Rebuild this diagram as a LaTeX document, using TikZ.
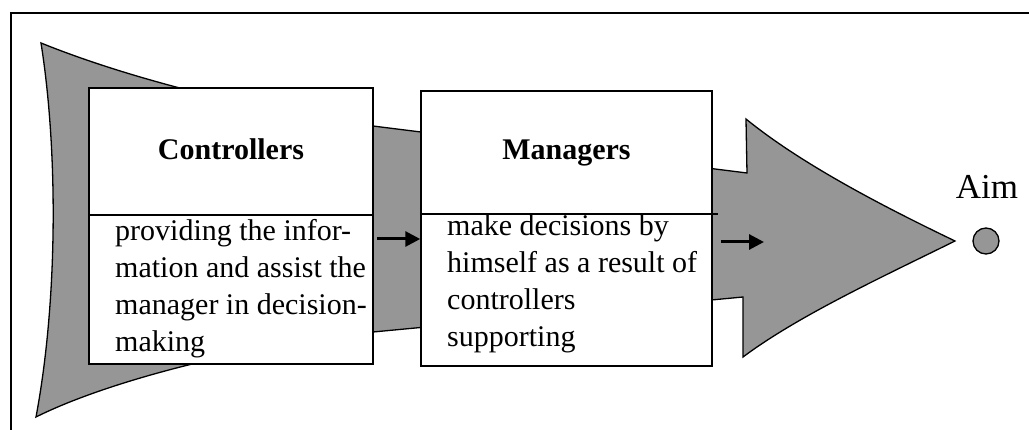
\documentclass[tikz,border=0pt]{standalone}
\usepackage{fontspec}
\setmainfont{Liberation Serif}
\usetikzlibrary{arrows.meta, calc, positioning}

\definecolor{flowgray}{RGB}{150,150,150}

\begin{document}
\begin{tikzpicture}[
	x=1pt, y=-1pt,
	frame/.style = {line width=2pt},
	flow shape/.style = {draw=black, line width=1.3pt, fill=flowgray, line join=miter},
	box/.style = {draw, line width=1.5pt, fill=white, inner sep=0pt},
	split/.style = {line width=1.3pt},
	title/.style = {font=\fontsize{30}{37}\selectfont\bfseries, inner sep=0pt, anchor=base},
	body/.style = {font=\fontsize{30}{37}\selectfont, align=left, inner sep=0pt, anchor=north west},
	arrow/.style = {-{Triangle[length=15pt, width=15pt]}, line width=3pt},
	dot/.style = {circle, draw, line width=1.3pt, fill=flowgray, minimum size=26pt, inner sep=0pt}
]

\useasboundingbox (0,0) rectangle (1029,430);
\draw[frame] (11,430) -- (11,13) -- (1029,13);

\path[flow shape] (41,43) .. controls (150,87) and (290,116) .. (373,126) -- (747,173) -- (746,119)
	.. controls (800,163) and (880,205) .. (955,241)
	.. controls (880,278) and (798,316) .. (743,357) -- (743,297) -- (373,332)
	.. controls (250,345) and (110,380) .. (36,417)
	.. controls (58,300) and (58,150) .. cycle;

\node[box, minimum width=284pt, minimum height=276pt] (ctrl) at (231,226) {};
\node[box, minimum width=291pt, minimum height=275pt] (mgr) at (566.5,228.5) {};

\coordinate (ctrl split) at (0,215);
\coordinate (mgr split) at (0,214);
\draw[split] (ctrl.west |- ctrl split) -- (ctrl.east |- ctrl split);
\draw[split] ([xshift=2pt]mgr.west |- mgr split) -- ([xshift=5pt]mgr.east |- mgr split);

\coordinate (title line) at (0,160);
\node[title] (ctrl title) at (ctrl.center |- title line) {Controllers};
\node[title] (mgr title) at (mgr.center |- title line) {Managers};

\node[body] (ctrl text) at (115,219) {providing the infor-\\mation and assist the\\manager in decision-\\making};
\node[body] (mgr text) at (447,214) {make decisions by\\himself as a result of\\controllers\\supporting};

\node[dot] (aim dot) at (986,241) {};
\node[font=\fontsize{35}{42}\selectfont, inner sep=0pt, anchor=base] (aim) at (987,199) {Aim};

\coordinate (first start) at (377,239);
\coordinate (second start) at (721,242);
\coordinate (second end) at (764,242);
\draw[arrow] (first start) -- (mgr.west |- first start);
\draw[arrow] (second start) -- (second end);

\end{tikzpicture}
\end{document}
